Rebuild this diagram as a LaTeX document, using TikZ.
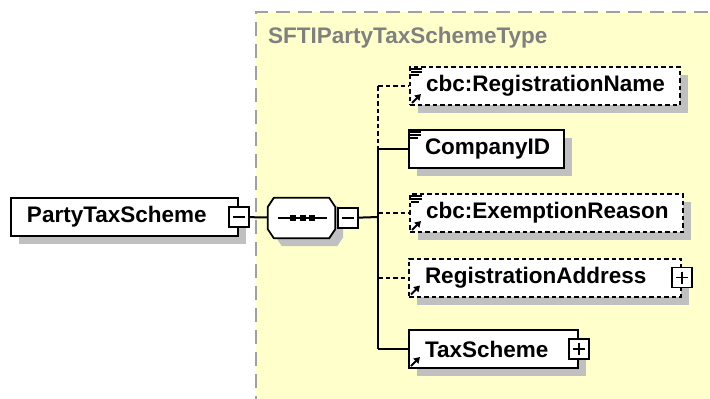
\documentclass[tikz,border=0pt]{standalone}
\usepackage{fontspec}
\setmainfont{Liberation Sans}
\usetikzlibrary{positioning,shadows,arrows.meta}
\definecolor{schemayellow}{RGB}{255,255,204}
\definecolor{framegray}{RGB}{160,160,160}
\definecolor{titlegray}{RGB}{128,128,128}
\definecolor{shadowgray}{RGB}{192,192,192}

\begin{document}
\begin{tikzpicture}
	[
		x=1pt, y=-1pt,
		shadowed/.style={drop shadow={shadow xshift=8pt, shadow yshift=-8pt, fill=shadowgray, opacity=1}},
		elem/.style={draw, fill=white, line width=2pt, anchor=west, minimum height=38pt,
			inner xsep=16pt, inner ysep=0pt, align=left, text width=#1, shadowed,
			font=\fontsize{22.5}{26}\selectfont\bfseries, execute at begin node={\hyphenpenalty=10000}},
		opt/.style={dash pattern=on 4.5pt off 3pt},
		conn/.style={line width=2pt},
		pm/.style={draw, fill=white, line width=1.5pt, minimum size=20pt, inner sep=0pt,
			path picture={\draw[line width=1.5pt] ([xshift=4pt]path picture bounding box.west) -- ([xshift=-4pt]path picture bounding box.east);}},
		plus/.style={draw, fill=white, line width=1.5pt, minimum size=20pt, inner sep=0pt,
			path picture={\draw[line width=1.5pt] ([xshift=4pt]path picture bounding box.west) -- ([xshift=-4pt]path picture bounding box.east)
				([yshift=-4pt]path picture bounding box.north) -- ([yshift=4pt]path picture bounding box.south);}}
	]
	\useasboundingbox (0,0) rectangle (710,399);

	% type area
	\fill[schemayellow] (256,12) rectangle (720,410);
	\draw[framegray, line width=2pt, dash pattern=on 14pt off 8pt] (256,410) -- (256,12) -- (720,12);
	\node[anchor=west, text=titlegray, inner sep=0pt, font=\fontsize{22.5}{26}\selectfont\bfseries] (title) at (268,38) {SFTIPartyTaxSchemeType};

	% root and sequence
	\node[elem=195pt] (pts) at (10,217) {PartyTaxScheme};
	\node[pm] (ptsm) at (pts.east) {};
	\node[minimum width=67pt, minimum height=40pt, inner sep=0pt] (seq) at (301.5,218) {};
	\filldraw[fill=white, line width=1.8pt, shadowed]
		([xshift=6pt]seq.north west) -- ([xshift=-6pt]seq.north east) -- ([yshift=-9pt]seq.north east)
		-- ([yshift=9pt]seq.south east) -- ([xshift=-6pt]seq.south east) -- ([xshift=6pt]seq.south west)
		-- ([yshift=9pt]seq.south west) -- ([yshift=-9pt]seq.north west) -- cycle;
	\node[pm, anchor=west] (seqm) at ([xshift=2pt]seq.east) {};
	\draw[conn] ([xshift=10pt]seq.west) -- ([xshift=-8pt]seq.east);
	\foreach \dx in {-9,1,10}
		\fill ([xshift=\dx pt]seq.center) +(-3,-3) rectangle +(3,3);
	\coordinate (tr) at (378,217);

	% child elements
	\node[elem=238pt, opt] (rn) at (409,86) {cbc:RegistrationName};
	\node[elem=123pt] (cid) at (408,149) {CompanyID};
	\node[elem=241pt, opt] (er) at (409,213) {cbc:ExemptionReason};
	\node[elem=240pt, opt] (ra) at (408,277.5) {RegistrationAddress};
	\node[elem=137pt] (ts) at (408,349) {TaxScheme};
	\node[plus] (rap) at (ra.east) {};
	\node[plus] (tsp) at (ts.east) {};

	% icons
	\foreach \n in {rn,cid,er}
		\foreach \k/\l in {0/11,1/11,2/8}
			\draw[line width=1.5pt] ([shift={(2,3+3*\k)}]\n.north west) -- ++(\l,0);
	\foreach \n in {rn,er,ra,ts}
		\draw[line width=1.8pt, -{Triangle[length=6pt,width=7pt]}] ([shift={(3,-3)}]\n.south west) -- ++(9,-9);

	% connectors
	\draw[conn] (ptsm) -- (seq);
	\draw[conn] (seqm) -- (tr);
	\draw[conn, opt] (tr |- rn.west) -- (tr |- cid.west);
	\draw[conn] (tr |- cid.west) -- (tr |- ts.west);
	\foreach \n in {rn,er,ra}
		\draw[conn, opt] (tr |- \n.west) -- (\n.west);
	\foreach \n in {cid,ts}
		\draw[conn] (tr |- \n.west) -- (\n.west);

\end{tikzpicture}
\end{document}
